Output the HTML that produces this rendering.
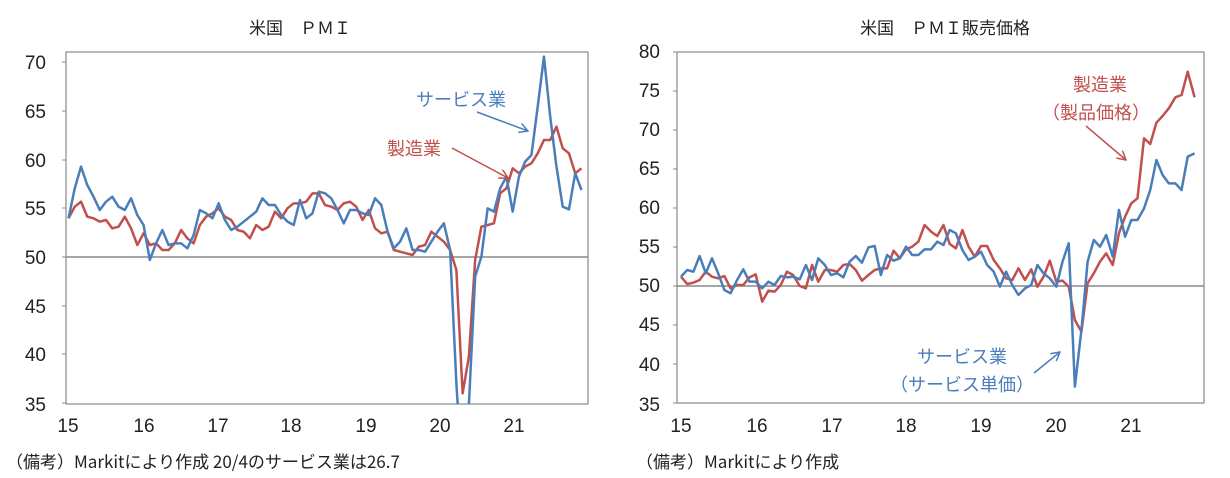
<!DOCTYPE html>
<html><head><meta charset="utf-8"><style>
html,body{margin:0;padding:0;background:#fff;}
svg{display:block;font-family:"Liberation Sans","Noto Sans CJK JP",sans-serif;}
.t{font-size:19px;fill:#222;}
.j{font-family:"Noto Sans CJK JP",sans-serif;}
</style></head><body>
<svg width="1230" height="478" viewBox="0 0 1230 478" xmlns="http://www.w3.org/2000/svg">
<defs>
<marker id="ab" markerWidth="10" markerHeight="10" refX="9" refY="5" orient="auto" markerUnits="userSpaceOnUse"><path d="M0,0 L9,5 L0,10" fill="none" stroke="#4a7ebb" stroke-width="1.5"/></marker>
<marker id="ar" markerWidth="10" markerHeight="10" refX="9" refY="5" orient="auto" markerUnits="userSpaceOnUse"><path d="M0,0 L9,5 L0,10" fill="none" stroke="#c0504d" stroke-width="1.5"/></marker>
<clipPath id="c1"><rect x="66" y="52" width="522" height="352"/></clipPath>
</defs>
<!-- LEFT CHART -->
<text x="300" y="34" text-anchor="middle" class="j" font-size="17" fill="#222">米国　ＰＭＩ</text>
<rect x="66" y="52" width="522" height="352" fill="none" stroke="#888" stroke-width="1.2"/>
<line x1="66" y1="257" x2="588" y2="257" stroke="#888" stroke-width="1.5"/>
<g stroke="#888" stroke-width="1">
<line x1="62" y1="62" x2="66" y2="62"/><line x1="62" y1="111" x2="66" y2="111"/><line x1="62" y1="160" x2="66" y2="160"/><line x1="62" y1="208" x2="66" y2="208"/><line x1="62" y1="257" x2="66" y2="257"/><line x1="62" y1="306" x2="66" y2="306"/><line x1="62" y1="354" x2="66" y2="354"/><line x1="62" y1="403" x2="66" y2="403"/>
</g>
<g class="t" text-anchor="end">
<text x="46" y="69">70</text><text x="46" y="118">65</text><text x="46" y="167">60</text><text x="46" y="215">55</text><text x="46" y="264">50</text><text x="46" y="313">45</text><text x="46" y="361">40</text><text x="46" y="411">35</text>
</g>
<g class="t" text-anchor="middle">
<text x="68" y="432">15</text><text x="144" y="432">16</text><text x="218" y="432">17</text><text x="291" y="432">18</text><text x="366" y="432">19</text><text x="440" y="432">20</text><text x="514" y="432">21</text>
</g>
<g clip-path="url(#c1)">
<g transform="translate(60,50) scale(0.34,0.33333)">
<polyline vector-effect="non-scaling-stroke" fill="none" stroke="#c0504d" stroke-width="2.5" stroke-linejoin="round" points="25,505 43.4,470 61.8,455 80.2,500 98.6,505 117,515 135.4,510 153.8,535 172.2,530 190.6,500 209,535 227.4,585 245.8,550 264.2,585 282.6,580 301,600 319.4,600 337.8,580 356.2,540 374.6,565 393,580 411.4,525 429.8,500 448.2,490 466.6,475 485,500 503.4,510 521.8,540 540.2,545 558.6,565 577,525 595.4,540 613.8,530 632.2,485 650.6,505 669,475 687.4,460 705.8,460 724.2,455 742.6,430 761,430 779.4,465 797.8,470 816.2,480 834.6,460 853,455 871.4,470 889.8,510 908.2,480 926.6,535 945,550 963.4,545 981.8,600 1000.2,605 1018.6,610 1037,615 1055.4,590 1073.8,585 1092.2,545 1110.6,560 1129,575 1147.4,600 1165.8,660 1184.2,1030 1202.6,920 1221,630 1239.4,530 1257.8,525 1276.2,520 1294.6,430 1313,415 1331.4,355 1349.8,370 1368.2,350 1386.6,340 1405,310 1423.4,270 1441.8,270 1460.2,230 1478.6,295 1497,310 1515.4,370 1533.8,355"/>
<polyline vector-effect="non-scaling-stroke" fill="none" stroke="#4a7ebb" stroke-width="2.5" stroke-linejoin="round" points="25,505 43.4,415 61.8,350 80.2,405 98.6,440 117,480 135.4,455 153.8,440 172.2,470 190.6,480 209,445 227.4,495 245.8,525 264.2,630 282.6,580 301,540 319.4,585 337.8,580 356.2,580 374.6,595 393,555 411.4,480 429.8,490 448.2,505 466.6,460 485,510 503.4,540 521.8,530 540.2,515 558.6,500 577,485 595.4,445 613.8,465 632.2,465 650.6,495 669,515 687.4,525 705.8,450 724.2,505 742.6,490 761,425 779.4,430 797.8,445 816.2,480 834.6,520 853,480 871.4,480 889.8,490 908.2,495 926.6,445 945,465 963.4,545 981.8,595 1000.2,575 1018.6,535 1037,600 1055.4,600 1073.8,605 1092.2,575 1110.6,545 1129,520 1147.4,600 1165.8,1000 1184.2,1300 1202.6,1065 1221,680 1239.4,620 1257.8,475 1276.2,485 1294.6,415 1313,380 1331.4,485 1349.8,380 1368.2,335 1386.6,315 1405,170 1423.4,20 1441.8,200 1460.2,350 1478.6,470 1497,478 1515.4,370 1533.8,420"/>
</g>
</g>
<text x="416" y="106" class="j" font-size="18" fill="#4a7ebb">サービス業</text>
<line x1="477" y1="112" x2="528" y2="131" stroke="#4a7ebb" stroke-width="1.5" marker-end="url(#ab)"/>
<text x="387" y="155" class="j" font-size="18" fill="#c0504d">製造業</text>
<line x1="452" y1="148" x2="508" y2="178" stroke="#c0504d" stroke-width="1.5" marker-end="url(#ar)"/>
<text x="6" y="468" class="j" font-size="17" fill="#222">（備考）Markitにより作成 20/4のサービス業は26.7</text>

<!-- RIGHT CHART -->
<text x="945" y="34" text-anchor="middle" class="j" font-size="17" fill="#222">米国　ＰＭＩ販売価格</text>
<rect x="677" y="52" width="527" height="351" fill="none" stroke="#888" stroke-width="1.2"/>
<line x1="677" y1="286" x2="1204" y2="286" stroke="#888" stroke-width="1.5"/>
<g stroke="#888" stroke-width="1">
<line x1="673" y1="52" x2="677" y2="52"/><line x1="673" y1="91" x2="677" y2="91"/><line x1="673" y1="130" x2="677" y2="130"/><line x1="673" y1="169" x2="677" y2="169"/><line x1="673" y1="208" x2="677" y2="208"/><line x1="673" y1="247" x2="677" y2="247"/><line x1="673" y1="286" x2="677" y2="286"/><line x1="673" y1="325" x2="677" y2="325"/><line x1="673" y1="364" x2="677" y2="364"/><line x1="673" y1="403" x2="677" y2="403"/>
</g>
<g class="t" text-anchor="end">
<text x="660" y="58">80</text><text x="660" y="97">75</text><text x="660" y="136">70</text><text x="660" y="175">65</text><text x="660" y="214">60</text><text x="660" y="253">55</text><text x="660" y="292">50</text><text x="660" y="331">45</text><text x="660" y="371">40</text><text x="660" y="411">35</text>
</g>
<g class="t" text-anchor="middle">
<text x="681" y="432">15</text><text x="757" y="432">16</text><text x="832" y="432">17</text><text x="906" y="432">18</text><text x="981" y="432">19</text><text x="1056" y="432">20</text><text x="1131" y="432">21</text>
</g>
<g transform="translate(670,40) scale(0.344,0.33333)">
<polyline vector-effect="non-scaling-stroke" fill="none" stroke="#c0504d" stroke-width="2.5" stroke-linejoin="round" points="32,710 50,732 68,728 86,720 104,695 122,710 140,715 158,708 176,745 195,735 213,735 231,712 249,703 268,785 286,752 304,755 322,735 340,695 358,705 377,738 395,745 413,675 431,725 450,690 468,690 486,695 504,675 522,672 540,690 558,722 577,705 595,690 613,685 631,685 650,632 668,655 686,628 704,620 722,605 740,555 759,575 777,588 795,555 813,612 831,625 850,570 868,620 886,650 904,618 922,618 941,660 959,685 977,715 995,720 1013,685 1032,720 1050,688 1068,740 1086,710 1104,662 1123,725 1141,722 1159,740 1177,840 1196,875 1214,730 1232,700 1250,665 1268,640 1287,675 1305,580 1323,530 1341,490 1359,475 1378,295 1396,312 1414,248 1432,228 1450,205 1469,172 1487,165 1505,95 1525,172"/>
<polyline vector-effect="non-scaling-stroke" fill="none" stroke="#4a7ebb" stroke-width="2.5" stroke-linejoin="round" points="32,710 50,690 68,695 86,648 104,700 122,655 140,700 158,750 176,760 195,720 213,688 231,725 249,725 268,745 286,725 304,735 322,708 340,712 358,710 377,718 395,675 413,720 431,655 450,675 468,705 486,700 504,712 522,665 540,648 558,668 577,622 595,618 613,705 631,645 650,662 668,655 686,620 704,645 722,645 740,628 759,628 777,605 795,615 813,570 831,580 850,630 868,660 886,650 904,635 922,675 941,695 959,740 977,695 995,735 1013,765 1032,745 1050,735 1068,675 1086,700 1104,715 1123,740 1141,665 1159,610 1177,1040 1196,870 1214,665 1232,600 1250,620 1268,585 1287,650 1305,510 1323,590 1341,540 1359,540 1378,505 1396,450 1414,360 1432,405 1450,430 1469,430 1487,450 1505,350 1525,340"/>
</g>
<text x="1100" y="91" text-anchor="middle" class="j" font-size="18" fill="#c0504d">製造業</text>
<text x="1096" y="119" text-anchor="middle" class="j" font-size="18" fill="#c0504d">（製品価格）</text>
<line x1="1086" y1="126" x2="1126" y2="160" stroke="#c0504d" stroke-width="1.5" marker-end="url(#ar)"/>
<text x="962" y="363" text-anchor="middle" class="j" font-size="18" fill="#4a7ebb">サービス業</text>
<text x="962" y="391" text-anchor="middle" class="j" font-size="18" fill="#4a7ebb">（サービス単価）</text>
<line x1="1034" y1="373" x2="1060" y2="352" stroke="#4a7ebb" stroke-width="1.5" marker-end="url(#ab)"/>
<text x="636" y="468" class="j" font-size="17" fill="#222">（備考）Markitにより作成</text>
</svg>
</body></html>
